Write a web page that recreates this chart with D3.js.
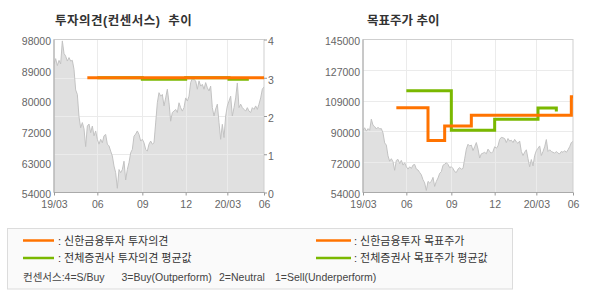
<!DOCTYPE html>
<html><head><meta charset="utf-8">
<script src="https://cdn.jsdelivr.net/npm/d3@7"></script>
<style>
body{margin:0;background:#fff;}
svg{display:block;}
text{font-family:"Liberation Sans","Noto Sans CJK KR",Arial,sans-serif;}
</style></head><body>
<svg id="c" width="590" height="300"></svg>
<script>
// ---- data ----
const price = [
91000,92500,90500,92000,91000,97600,94000,93200,91800,92800,
91800,92000,89400,83500,82200,75800,72600,74100,72300,67200,
73100,73700,71200,73100,70300,71700,69300,67900,69300,68300,
70300,70700,67900,67400,65900,64500,61600,59700,55200,60600,
59700,60600,63000,57600,60600,62600,65400,66400,70200,70800,
71700,70700,68800,69300,68300,66400,65900,67900,68800,67900,
68300,74000,79800,82700,81700,82200,78900,81200,83700,79800,
74500,77000,77400,77900,77000,79800,78400,77400,78400,81200,
80300,81700,85600,86800,86500,86100,83700,86100,84600,85100,
83700,85600,84100,83200,84600,78400,76000,78000,79400,74100,
69300,73600,69800,76000,78900,80300,81700,76000,78400,81200,
85500,78400,79400,78400,77900,77400,78400,77400,77000,78400,
77900,78900,77900,79400,81200,83700,84400
];
const xTickIdx = [0, 26, 53, 79, 104, 126];
const xTickLabels = ["19/03", "06", "09", "12", "20/03", "06"];

const opinionShinhan = [[20, 3], [126, 3]];
const opinionConsensus = [[26, 3], [53, 2.96], [79, 3], [105, 2.96], [116, 2.92]];
const targetShinhan = [[20, 104400], [39, 85000], [49, 93500], [65, 100000], [125, 111000], [126, 111000]];
const targetConsensus = [[26, 114500], [53, 91000], [79, 97600], [105, 104300], [116, 102200]];

const leftPriceTicks = [54000, 62800, 71600, 80400, 89200, 98000];
const leftPriceLabels = ["54000", "63000", "72000", "80000", "89000", "98000"];
const opinionTicks = [0, 1, 2, 3, 4];
const opinionLabels = ["0", "1", "2", "3", "4"];
const rightPriceTicks = [54000, 72200, 90400, 108600, 126800, 145000];
const rightPriceLabels = ["54000", "72000", "90000", "109000", "127000", "145000"];

const titles = ["투자의견(컨센서스)  추이", "목표주가 추이"];
const legendLeft = [": 신한금융투자 투자의견", ": 전체증권사 투자의견 평균값"];
const legendRight = [": 신한금융투자 목표주가", ": 전체증권사 목표주가 평균값"];
const consensusNote = ["컨센서스:4=S/Buy", "3=Buy(Outperform)", "2=Neutral", "1=Sell(Underperform)"];

const ORANGE = "#ff7300", GREEN = "#7ab800";

// ---- drawing ----
const svg = d3.select("#c");
const N = price.length;
const plotTop = 39.5, plotBottom = 192.5;

function panel(x0, x1, yDomain, yTicks, yLabels, gridScale, gridTicks, clipId) {
  const g = svg.append("g");
  const x = d3.scaleLinear().domain([0, N - 1]).range([x0, x1]);
  const y = d3.scaleLinear().domain(yDomain).range([plotBottom, plotTop]);
  const gy = gridScale || y;
  g.append("clipPath").attr("id", clipId).append("rect")
    .attr("x", x0).attr("y", plotTop).attr("width", x1 - x0).attr("height", plotBottom - plotTop);
  const pg = g.append("g").attr("clip-path", `url(#${clipId})`);
  pg.append("path").datum(price)
    .attr("fill", "#e0e0e0")
    .attr("d", d3.area().x((d, i) => x(i)).y0(plotBottom).y1(d => y(d)));
  pg.selectAll(".gv").data(xTickIdx.slice(1, -1)).join("line")
    .attr("x1", d => Math.round(x(d)) + 0.5).attr("x2", d => Math.round(x(d)) + 0.5)
    .attr("y1", plotTop).attr("y2", plotBottom).attr("stroke", "#ebebeb");
  pg.selectAll(".gh").data(gridTicks).join("line")
    .attr("x1", x0).attr("x2", x1)
    .attr("y1", d => Math.round(gy(d)) + 0.5).attr("y2", d => Math.round(gy(d)) + 0.5)
    .attr("stroke", "#ebebeb");
  pg.append("path").datum(price)
    .attr("fill", "none").attr("stroke", "#c2c2c2").attr("stroke-width", 1)
    .attr("d", d3.line().x((d, i) => x(i)).y(d => y(d)));
  g.append("rect").attr("x", x0).attr("y", plotTop).attr("width", x1 - x0).attr("height", plotBottom - plotTop)
    .attr("fill", "none").attr("stroke", "#cfcfcf");
  g.append("line").attr("x1", x0).attr("x2", x0).attr("y1", plotTop).attr("y2", plotBottom).attr("stroke", "#aaa");
  g.append("line").attr("x1", x0).attr("x2", x1).attr("y1", plotBottom).attr("y2", plotBottom).attr("stroke", "#aaa");
  const xa = g.append("g").attr("transform", `translate(0,${plotBottom})`)
    .call(d3.axisBottom(x).tickValues(xTickIdx).tickFormat((d, i) => xTickLabels[i]).tickSize(3).tickPadding(5));
  xa.select(".domain").remove();
  xa.selectAll("line").attr("stroke", "#999");
  xa.selectAll("text").attr("fill", "#666").style("font-size", "10.5px");
  const ya = g.append("g").attr("transform", `translate(${x0},0)`)
    .call(d3.axisLeft(y).tickValues(yTicks).tickFormat((d, i) => yLabels[i]).tickSize(0).tickPadding(3));
  ya.select(".domain").remove();
  ya.selectAll("text").attr("fill", "#666").attr("dy", "0.5em").style("font-size", "10.5px");
  return { g, x, y };
}

// Left chart
const yO = d3.scaleLinear().domain([0, 4]).range([plotBottom, plotTop]);
const L = panel(54, 264, [54000, 98000], leftPriceTicks, leftPriceLabels, yO, opinionTicks.slice(1, -1), "clipL");
const ra = L.g.append("g").attr("transform", "translate(264,0)")
  .call(d3.axisRight(yO).tickValues(opinionTicks).tickFormat((d, i) => opinionLabels[i]).tickSize(3).tickPadding(1));
ra.select(".domain").remove();
ra.selectAll("line").attr("stroke", "#999");
ra.selectAll("text").attr("fill", "#666").attr("dy", "0.5em").style("font-size", "10.5px");
const stepL = d3.line().curve(d3.curveStepAfter).x(d => L.x(d[0])).y(d => yO(d[1]));
L.g.append("path").datum(opinionConsensus).attr("fill", "none").attr("stroke", GREEN).attr("stroke-width", 3).attr("d", stepL);
L.g.append("path").datum(opinionShinhan).attr("fill", "none").attr("stroke", ORANGE).attr("stroke-width", 3).attr("d", stepL);

// Right chart
const R = panel(363, 573, [54000, 145000], rightPriceTicks, rightPriceLabels, null, rightPriceTicks.slice(1, -1), "clipR");
const stepR = d3.line().curve(d3.curveStepAfter).x(d => R.x(d[0])).y(d => R.y(d[1]));
R.g.append("path").datum(targetConsensus).attr("fill", "none").attr("stroke", GREEN).attr("stroke-width", 3).attr("d", stepR);
R.g.append("path").datum(targetShinhan).attr("fill", "none").attr("stroke", ORANGE).attr("stroke-width", 3).attr("d", stepR);

// Titles
svg.append("text").attr("x", 55).attr("y", 25).text(titles[0])
  .attr("fill", "#333").style("font-size", "12.5px").style("font-weight", "bold")
  .style("white-space", "pre").style("letter-spacing", "0.5px");
svg.append("text").attr("x", 367).attr("y", 25).text(titles[1])
  .attr("fill", "#333").style("font-size", "12.5px").style("font-weight", "bold");

// Legend
const lg = svg.append("g");
lg.append("rect").attr("x", 7.5).attr("y", 228.5).attr("width", 505).attr("height", 60.5)
  .attr("fill", "#fafafa").attr("stroke", "#dcdcdc");
const rowsY = [240.5, 258];
[[ORANGE, 0], [GREEN, 1]].forEach(([c, i]) => {
  lg.append("line").attr("x1", 23).attr("x2", 54).attr("y1", rowsY[i]).attr("y2", rowsY[i])
    .attr("stroke", c).attr("stroke-width", 2.5);
  lg.append("text").attr("x", 58).attr("y", rowsY[i] + 4).text(legendLeft[i])
    .attr("fill", "#333").style("font-size", "11px");
  lg.append("line").attr("x1", 316).attr("x2", 351).attr("y1", rowsY[i]).attr("y2", rowsY[i])
    .attr("stroke", c).attr("stroke-width", 2.5);
  lg.append("text").attr("x", 354).attr("y", rowsY[i] + 4).text(legendRight[i])
    .attr("fill", "#333").style("font-size", "11px");
});
const noteX = [23, 121.5, 219, 275];
consensusNote.forEach((t, i) => {
  lg.append("text").attr("x", noteX[i]).attr("y", 281).text(t)
    .attr("fill", "#444").style("font-size", "10.5px");
});
</script>
</body></html>
